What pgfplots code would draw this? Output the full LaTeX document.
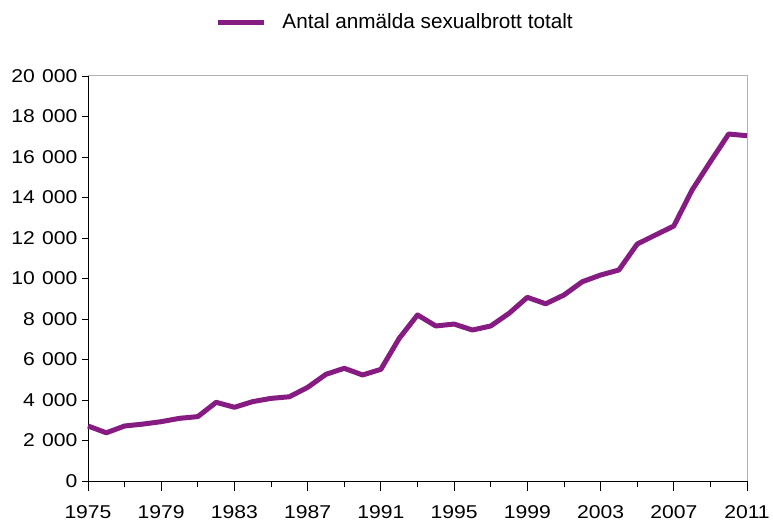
\documentclass[border=0pt]{standalone}
\usepackage{pgfplots}
\pgfplotsset{compat=1.18}
\usepackage{fontspec}
\setmainfont{Liberation Sans}
\newfontfamily\tickfont[FakeStretch=1.14]{Liberation Sans}
\definecolor{lila}{RGB}{134,28,129}
\definecolor{framegray}{RGB}{178,178,178}
\begin{document}
\begin{tikzpicture}
\path[use as bounding box] (0,0) rectangle (773bp,523bp);
\begin{axis}[
  at={(88bp,42bp)}, anchor=south west,
  scale only axis, width=659bp, height=405bp,
  xmin=1975, xmax=2011, ymin=0, ymax=20000,
  axis x line*=bottom, axis y line*=left,
  axis line style={black, line width=0.8bp, -},
  xtick={1975,1979,...,2011},
  minor xtick={1977,1981,...,2009},
  ytick={0,2000,...,20000},
  scaled y ticks=false,
  tick align=outside,
  major tick length=6bp, minor tick length=6bp,
  xtick style={black, line width=0.8bp, /pgfplots/major tick length=10bp},
  minor tick style={black, line width=0.8bp},
  ytick style={black, line width=0.8bp},
  tick label style={font=\tickfont\fontsize{18.6}{22}\selectfont},
  xticklabel={\pgfmathprintnumber[assume math mode=true, 1000 sep={}]{\tick}},
  yticklabel={\pgfmathprintnumber[assume math mode=true, fixed, precision=0, 1000 sep={\hspace{1.5bp}\ }]{\tick}},
  yticklabel style={xshift=-1bp},
  xticklabel style={yshift=-15bp},
  legend style={at={(0.466,1.133)}, anchor=center, draw=none, fill=none,
    font=\fontsize{20.8}{24}\selectfont, legend cell align=left, column sep=14bp},
  legend image code/.code={\draw[#1] (0bp,0bp) -- (46bp,0bp);},
  clip=false,
]
\draw[framegray, line width=1bp] (rel axis cs:0,1) -- (rel axis cs:1,1) -- (rel axis cs:1,0);
\addplot[lila, line width=5bp, line join=round] coordinates {
(1975,2716) (1976,2380) (1977,2716) (1978,2810) (1979,2930) (1980,3095)
(1981,3180) (1982,3885) (1983,3640) (1984,3920) (1985,4080) (1986,4160)
(1987,4625) (1988,5270) (1989,5565) (1990,5235) (1991,5515) (1992,7045)
(1993,8200) (1994,7655) (1995,7750) (1996,7455) (1997,7655) (1998,8280)
(1999,9070) (2000,8750) (2001,9185) (2002,9840) (2003,10170) (2004,10420)
(2005,11700) (2006,12150) (2007,12590) (2008,14370) (2009,15770) (2010,17135)
(2011,17050)
};
\addlegendentry{Antal anmälda sexualbrott totalt}
\end{axis}
\end{tikzpicture}
\end{document}
